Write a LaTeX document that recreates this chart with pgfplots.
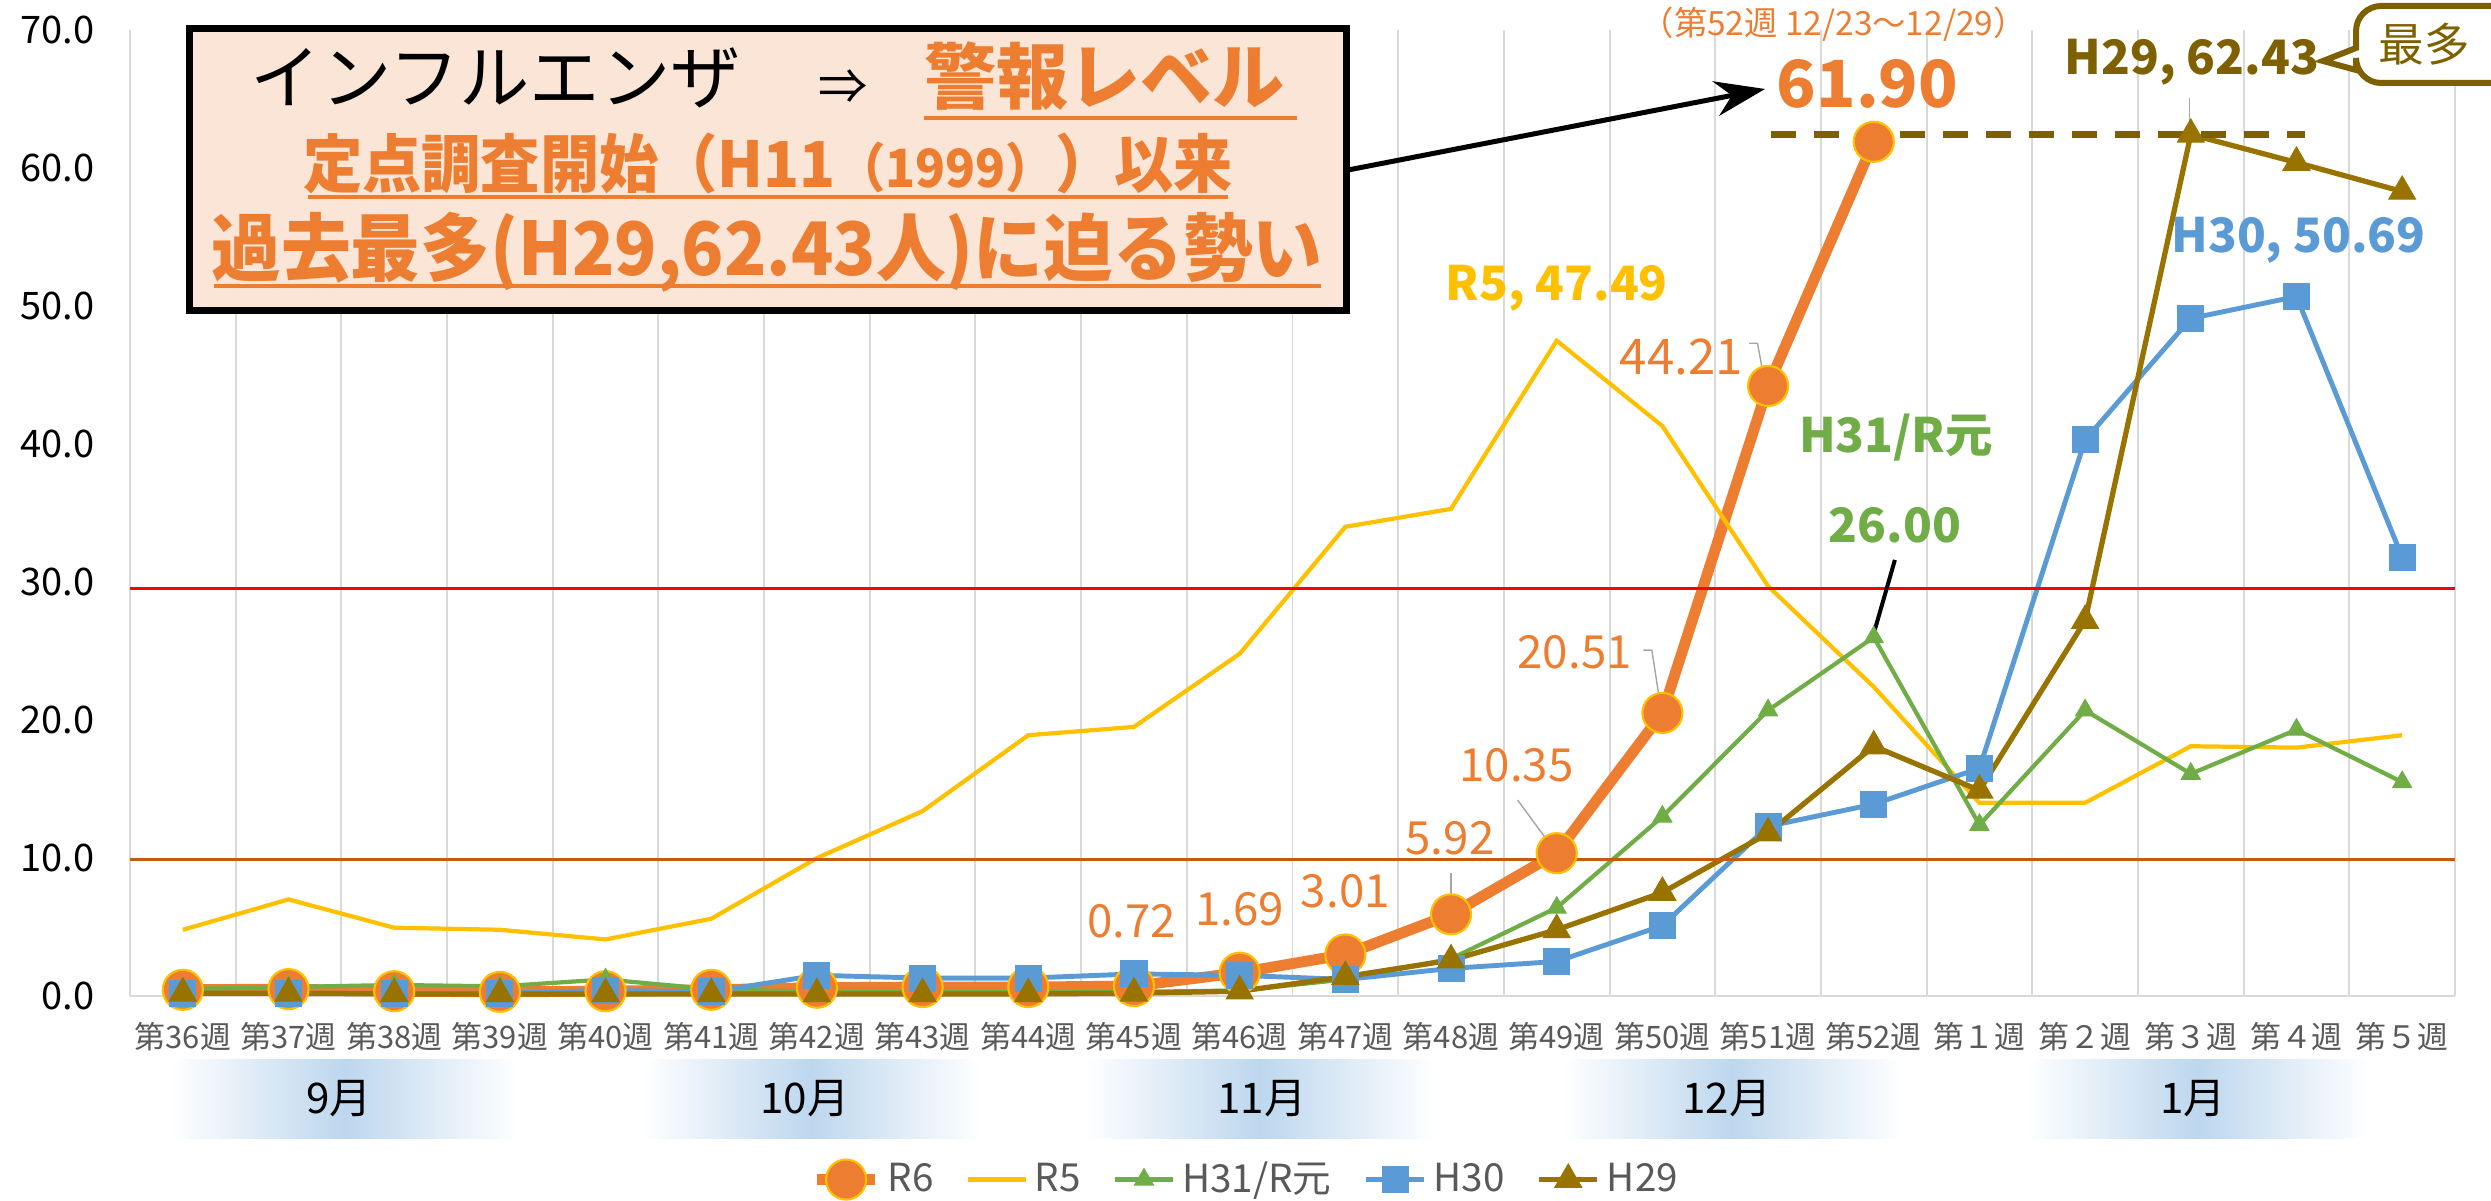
\documentclass[border=0pt]{standalone}
\usepackage{fontspec}
\setmainfont{Noto Sans CJK JP}
\usepackage{pgfplots}
\pgfplotsset{compat=1.18}
\usetikzlibrary{arrows.meta}
\definecolor{cR6}{HTML}{ED7D31}
\definecolor{cR5}{HTML}{FFC000}
\definecolor{cH31}{HTML}{70AD47}
\definecolor{cH30}{HTML}{5B9BD5}
\definecolor{cH29}{HTML}{997300}
\definecolor{cdark}{HTML}{7F6000}
\definecolor{gridgray}{HTML}{D9D9D9}
\definecolor{labgray}{HTML}{595959}
\definecolor{leadgray}{HTML}{A6A6A6}
\definecolor{boxfill}{HTML}{FBE5D6}
\definecolor{bandblue}{HTML}{BDD7EE}
\definecolor{brownline}{HTML}{C55A11}
\newcommand\fs[1]{\fontsize{#1}{#1}\selectfont}
\begin{document}
\begin{tikzpicture}
\useasboundingbox (0,0) rectangle (249.1mm,120mm);
\begin{axis}[
 at={(13mm,20.4mm)}, anchor=south west, scale only axis,
 width=232.5mm, height=96.6mm,
 xmin=-0.5, xmax=21.5, ymin=0, ymax=70, clip=false,
 xtick={0,...,21},
 xticklabels={第36週,第37週,第38週,第39週,第40週,第41週,第42週,第43週,第44週,第45週,第46週,第47週,第48週,第49週,第50週,第51週,第52週,第１週,第２週,第３週,第４週,第５週},
 minor xtick={-0.5,0.5,...,21.5},
 xminorgrids, minor grid style={draw=gridgray, line width=0.55pt},
 ytick={0,10,...,70},
 major tick length=0pt, minor tick length=0pt,
 axis x line*=bottom, axis y line*=left,
 axis line style={draw=gridgray, line width=0.6pt, -},
 xticklabel style={font=\fs{8.8pt}, text=labgray, anchor=center, yshift=-4.1mm},
 yticklabel style={font=\fs{10.8pt}, text=black, anchor=east, inner sep=0pt, xshift=-3.5mm,
   /pgf/number format/.cd, fixed, fixed zerofill, precision=1},
 /pgf/number format/assume math mode=true,
 legend style={at={(0.481,-0.19)}, anchor=center, draw=none, fill=none,
   legend columns=5, font=\fs{11pt}, text=labgray,
   /tikz/every even column/.append style={column sep=2.5mm}},
 legend image code/.code={\draw[mark repeat=2,mark phase=2] plot coordinates {(0mm,0mm) (2.9mm,0mm) (5.8mm,0mm)};},
]
% R6
\addplot[color=cR6, line width=3.1pt, mark=*, mark size=5.7pt,
  mark options={fill=cR6, draw=cR5, line width=0.6pt}] coordinates {
 (0,0.45) (1,0.5) (2,0.35) (3,0.3) (4,0.35) (5,0.45) (6,0.6) (7,0.65) (8,0.65)
 (9,0.72) (10,1.69) (11,3.01) (12,5.92) (13,10.35) (14,20.51) (15,44.21) (16,61.90)};
\addlegendentry{R6}
% R5
\addplot[color=cR5, line width=1.2pt, mark=none] coordinates {
 (0,4.8) (1,7.0) (2,4.95) (3,4.8) (4,4.1) (5,5.6) (6,10.0) (7,13.4) (8,18.9)
 (9,19.5) (10,24.8) (11,34.0) (12,35.3) (13,47.49) (14,41.3) (15,29.7) (16,22.4)
 (17,14.0) (18,14.0) (19,18.1) (20,18.0) (21,18.9)};
\addlegendentry{R5}
% H31/R1
\addplot[color=cH31, line width=1.2pt, mark=triangle*, mark size=3.1pt,
  mark options={fill=cH31, line width=0.3pt}] coordinates {
 (0,0.5) (1,0.65) (2,0.8) (3,0.7) (4,1.2) (5,0.5) (6,0.3) (7,0.3) (8,0.3)
 (9,0.3) (10,0.4) (11,1.2) (12,2.7) (13,6.4) (14,13.0) (15,20.7) (16,26.00)
 (17,12.4) (18,20.7) (19,16.1) (20,19.3) (21,15.5)};
\addlegendentry{H31/R元}
% H30
\addplot[color=cH30, line width=1.4pt, mark=square*, mark size=3.7pt,
  mark options={fill=cH30, line width=0.3pt}] coordinates {
 (0,0.2) (1,0.2) (2,0.2) (3,0.2) (4,0.4) (5,0.3) (6,1.5) (7,1.3) (8,1.3)
 (9,1.6) (10,1.5) (11,1.2) (12,2.0) (13,2.5) (14,5.1) (15,12.3) (16,13.9)
 (17,16.5) (18,40.3) (19,49.1) (20,50.69) (21,31.8)};
\addlegendentry{H30}
% H29
\addplot[color=cH29, line width=1.5pt, mark=triangle*, mark size=4.4pt,
  mark options={fill=cH29, line width=0.3pt}] coordinates {
 (0,0.2) (1,0.2) (2,0.15) (3,0.15) (4,0.15) (5,0.15) (6,0.15) (7,0.15) (8,0.15)
 (9,0.2) (10,0.35) (11,1.4) (12,2.6) (13,4.8) (14,7.5) (15,11.8) (16,18.1)
 (17,14.9) (18,27.2) (19,62.43) (20,60.4) (21,58.3)};
\addlegendentry{H29}
% reference lines
\draw[red, line width=0.85pt] (axis cs:-0.5,29.5) -- (axis cs:21.5,29.5);
\draw[brownline, line width=0.85pt] (axis cs:-0.5,9.9) -- (axis cs:21.5,9.9);
\draw[cdark, line width=2pt, dash pattern=on 2.5mm off 1.8mm] (axis cs:15.03,62.43) -- (axis cs:20.08,62.43);
% leaders
\draw[leadgray, line width=0.4pt] (axis cs:13.82,25.07) -- (axis cs:13.9,25.07) -- (axis cs:13.99,20.6);
\draw[leadgray, line width=0.4pt] (axis cs:12.63,14.2) -- (axis cs:12.99,10.45);
\draw[leadgray, line width=0.4pt] (axis cs:12.0,8.9) -- (axis cs:12.0,6.0);
\draw[leadgray, line width=0.4pt] (axis cs:14.82,47.3) -- (axis cs:14.9,47.3) -- (axis cs:14.97,44.4);
\draw[leadgray, line width=0.4pt] (axis cs:18.99,65.1) -- (axis cs:18.99,62.6);
\draw[black, line width=0.4mm] (axis cs:16.2,31.6) -- (axis cs:15.99,26.0);
% labels
\node[text=cR5, font=\fs{13.5pt}\bfseries] at (axis cs:13.0,51.3) {R5, 47.49};
\node[text=cR6, font=\fs{14pt}] at (axis cs:14.18,46.3) {44.21};
\node[text=cR6, font=\fs{13pt}] at (axis cs:13.17,24.9) {20.51};
\node[text=cR6, font=\fs{13pt}] at (axis cs:12.62,16.7) {10.35};
\node[text=cR6, font=\fs{13pt}] at (axis cs:11.99,11.45) {5.92};
\node[text=cR6, font=\fs{13pt}] at (axis cs:11.0,7.6) {3.01};
\node[text=cR6, font=\fs{13pt}] at (axis cs:10.0,6.3) {1.69};
\node[text=cR6, font=\fs{13pt}] at (axis cs:8.98,5.4) {0.72};
\node[text=cH30, font=\fs{13.5pt}\bfseries] at (axis cs:20.02,54.8) {H30, 50.69};
\node[text=cH31, font=\fs{13.5pt}\bfseries] at (axis cs:16.21,40.5) {H31/R元};
\node[text=cH31, font=\fs{13.5pt}\bfseries] at (axis cs:16.2,34.1) {26.00};
\node[text=cR6, font=\fs{18.5pt}\bfseries] at (axis cs:15.94,66.1) {61.90};
\node[text=cR6, font=\fs{9.5pt}] at (axis cs:15.62,70.4) {（第52週 12/23〜12/29）};
\node[text=cdark, font=\fs{13.5pt}\bfseries] at (axis cs:19.01,67.7) {H29, 62.43};
\end{axis}
\begin{scope}[shift={(0,120mm)}, x=0.1mm, y=-0.1mm]
 % month bands
 \foreach \a/\b/\t/\c in {171/518/9月/339, 642/981/10月/805, 1085/1435/11月/1262, 1563/1902/12月/1727, 2026/2369/1月/2193} {
   \shade[left color=white, right color=white, middle color=bandblue] (\a,1059) rectangle (\b,1138);
   \node[font=\fs{12pt}] at (\c,1099) {\t};
 }
 % text box
 \draw[line width=0.7mm, fill=boxfill] (189,29) rectangle (1346,310);
 \node[anchor=base west, inner sep=0pt, font=\fs{20pt}] at (250,104) {インフルエンザ};
 \node[anchor=center, inner sep=0pt, font=\fs{14pt}] at (843,87) {⇒};
 \node[anchor=base west, inner sep=0pt, font=\fs{20.5pt}\bfseries, text=cR6] at (924,104) {警報レベル};
 \draw[cR6, line width=0.9pt] (924,118) -- (1297,118);
 \node[anchor=base, inner sep=0pt, font=\fs{18pt}\bfseries, text=cR6] at (768,188) {\scalebox{0.937}[1]{定点調査開始（H11{\fs{15pt}（1999）}）以来}};
 \draw[cR6, line width=0.9pt] (308,197) -- (1228,197);
 \node[anchor=base, inner sep=0pt, font=\fs{21pt}\bfseries, text=cR6] at (767,275) {\scalebox{0.945}[1]{過去最多(H29,62.43人)に迫る勢い}};
 \draw[cR6, line width=0.9pt] (214,286) -- (1321,286);
 % arrow
 \draw[line width=0.5mm, -{Stealth[length=5mm, width=3.5mm]}] (1348,170) -- (1765,89);
 % callout
 \draw[cdark, line width=0.6mm, fill=white] (2356,48) [rounded corners=2.5mm] -- (2356,6) -- (2540,6) -- (2540,83) -- (2356,83) [sharp corners] -- (2356,70) -- (2323,61) -- cycle;
 \node[text=cdark, font=\fs{13pt}] at (2424,44) {最多};
\end{scope}
\end{tikzpicture}
\end{document}
